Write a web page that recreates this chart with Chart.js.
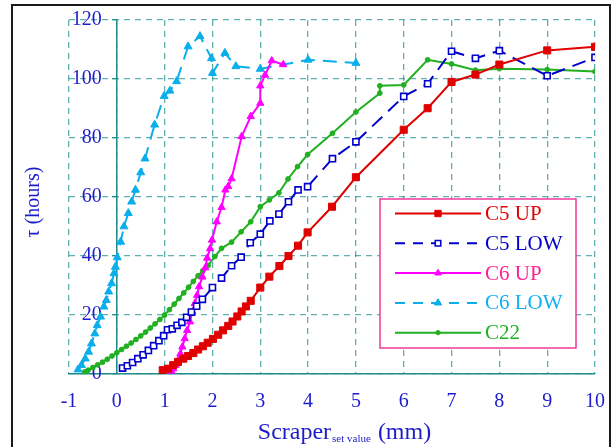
<!DOCTYPE html>
<html>
<head>
<meta charset="utf-8">
<script src="https://cdn.jsdelivr.net/npm/chart.js@4.4.1/dist/chart.umd.min.js"></script>
<style>
  html, body { margin: 0; padding: 0; background: #fff; }
  #wrap { position: relative; width: 612px; height: 447px; }
</style>
</head>
<body>
<div id="wrap"><canvas id="c" width="612" height="447"></canvas></div>
<script>
/* ---------- data ---------- */
const c5Up = [
  [0.96,1.3],[1.07,1.8],[1.18,3],[1.28,4.1],[1.39,5.2],[1.49,6.1],[1.6,7.1],[1.7,8.3],[1.8,9.4],[1.9,10.6],
  [2.01,11.9],[2.12,13.3],[2.22,14.8],[2.33,16.3],[2.42,17.8],[2.52,19.5],[2.61,21.2],[2.7,22.9],[2.8,24.8],
  [3.0,29.3],[3.19,33],[3.4,36.6],[3.59,40],[3.79,43.5],[3.99,48],[4.5,56.7],[5.0,66.7],[6.0,82.8],[6.5,90.1],
  [7.0,99],[7.5,101.5],[8.0,104.9],[9.0,109.7],[10.0,110.9]
];
const c5Low = [
  [0.12,2.0],[0.22,2.8],[0.33,3.9],[0.44,5.2],[0.55,6.5],[0.66,8.0],[0.77,9.6],[0.88,11.3],[0.98,13.0],[1.06,15.0],
  [1.16,15.3],[1.26,16.5],[1.36,17.5],[1.46,19.2],[1.56,21.0],[1.67,23.0],[1.79,25.3],[2.0,29.3],[2.19,32.5],
  [2.4,36.7],[2.6,39.6],[2.79,44.5],[3.0,47.4],[3.2,51.9],[3.39,54.2],[3.59,58.4],[3.79,62.4],[3.99,63.5],
  [4.51,73],[5.0,78.7],[6.0,94.1],[6.5,98.4],[7.0,109.4],[7.5,107],[8.0,109.6],[9.0,101.1],[10.0,107.3]
];
const c6Up = [
  [1.14,1.0],[1.18,1.8],[1.23,3],[1.28,4.6],[1.33,6.9],[1.37,9.2],[1.42,12],[1.47,14.8],[1.53,17.7],[1.58,21.1],
  [1.63,23.9],[1.68,26.7],[1.72,29.6],[1.79,32.9],[1.85,36],[1.89,39.3],[1.95,42.5],[1.99,45.4],[2.09,51.6],
  [2.19,56.5],[2.27,62.4],[2.33,63.6],[2.4,66.2],[2.61,80.5],[2.8,87.3],[3.0,91.8],[3.0,97.7],[3.1,101.3],
  [3.24,106.2],[3.48,104.9]
];
const c6Low = [
  [-0.81,1.5],[-0.74,3],[-0.66,5.2],[-0.59,7.5],[-0.53,10.3],[-0.46,13.7],[-0.41,16.5],[-0.34,19.4],[-0.27,22.8],
  [-0.22,25],[-0.17,27.9],[-0.11,30.7],[-0.06,34.1],[-0.03,36.3],[0.01,39.5],[0.08,44.8],[0.15,50],[0.24,54.5],
  [0.31,58.4],[0.39,62.4],[0.5,68.3],[0.59,73],[0.79,84.5],[0.99,94.2],[1.11,96],[1.25,99.2],[1.49,111],
  [1.74,114.5],[1.98,107],[2.0,102],[2.26,108.8],[2.49,104.3],[3.0,103.4],[4.0,106.5],[5.0,105.4]
];
const c22 = [
  [-0.67,0.7],[-0.6,1.3],[-0.5,2.2],[-0.4,3.1],[-0.3,4.0],[-0.2,5.0],[-0.1,6.1],[0,7.2],[0.1,8.3],[0.2,9.4],
  [0.3,10.5],[0.4,11.7],[0.5,12.9],[0.6,14.2],[0.7,15.6],[0.8,17.0],[0.9,18.5],[1.0,20.0],[1.1,21.8],[1.2,23.7],
  [1.3,25.6],[1.4,27.5],[1.5,29.4],[1.6,31.4],[1.7,33.3],[1.8,35.0],[1.91,36.8],[2.05,39.8],[2.19,42.6],
  [2.4,44.7],[2.6,48.2],[2.8,51.6],[3.0,56.7],[3.19,59],[3.39,61.4],[3.58,66.1],[3.78,70.3],[3.99,74.4],
  [4.51,81.6],[5.0,88.8],[5.5,95.2],[5.5,97.7],[6.0,98],[6.5,106.5],[7.0,105.1],[7.5,103],[8.0,103.5],
  [9.0,103.2],[10.0,102.5]
];
const seriesNames = ['C5 UP', 'C5 LOW', 'C6 UP', 'C6 LOW', 'C22'];
const xRange = [-1, 10], xStep = 1;
const yRange = [0, 120], yStep = 20;

/* ---------- look ---------- */
const SERIF = '"Liberation Serif", "Times New Roman", "DejaVu Serif", serif';
const BLUE_TXT = '#1c1ccc';
const GRID = 'rgba(0,128,128,0.62)';
const AXIS = '#1f8c8c';
const legendTextColors = ['#e00000', '#0000cc', '#ff2090', '#10b0f0', '#20b020'];

const toPts = arr => arr.map(p => ({ x: p[0], y: p[1] }));

const mk = (label, data, color, opts) => Object.assign({
  label, data: toPts(data), showLine: true,
  borderColor: color, borderWidth: 2, pointBorderColor: color,
  pointBackgroundColor: color, pointBorderWidth: 1, tension: 0
}, opts);

const datasets = [
  mk(seriesNames[0], c5Up, '#e00000', { pointStyle: 'rect', pointRadius: 5 }),
  mk(seriesNames[1], c5Low, '#0000cc', { pointStyle: 'rect', pointRadius: 4.3, pointBackgroundColor: '#fff', pointBorderWidth: 1.6, borderDash: [14, 8] }),
  mk(seriesNames[2], c6Up, '#ff00ff', { pointStyle: 'triangle', pointRadius: 4.2 }),
  mk(seriesNames[3], c6Low, '#0aaeea', { pointStyle: 'triangle', pointRadius: 4.6, borderDash: [14, 8] }),
  mk(seriesNames[4], c22, '#20b020', { pointStyle: 'circle', pointRadius: 2.4 })
];

/* ---------- small drawing helpers ---------- */
function marker(ctx, style, r, x, y) {
  ctx.beginPath();
  if (style === 'rect') {
    const s = Math.SQRT1_2 * r;
    ctx.rect(x - s, y - s, 2 * s, 2 * s);
  } else if (style === 'triangle') {
    for (let k = 0; k < 3; k++) {
      const a = k * 2 * Math.PI / 3;
      const px = x + Math.sin(a) * r, py = y - Math.cos(a) * r;
      k ? ctx.lineTo(px, py) : ctx.moveTo(px, py);
    }
    ctx.closePath();
  } else {
    ctx.arc(x, y, r, 0, Math.PI * 2);
  }
  ctx.fill();
  ctx.stroke();
}

const framePlugin = {
  id: 'frame',
  beforeDraw(chart) {
    const ctx = chart.ctx;
    ctx.save();
    ctx.fillStyle = '#fff';
    ctx.fillRect(0, 0, chart.width, chart.height);
    ctx.strokeStyle = '#1a1a1a';
    ctx.lineWidth = 2;
    ctx.strokeRect(12, 5, 598, 470);
    ctx.restore();
  }
};

const boxLegend = {
  id: 'boxLegend',
  afterDatasetsDraw(chart) {
    const ctx = chart.ctx;
    const L = 380, T = 199, W = 196, H = 149;
    ctx.save();
    ctx.fillStyle = '#fff';
    ctx.fillRect(L, T, W, H);
    ctx.strokeStyle = '#f0389a';
    ctx.lineWidth = 1.5;
    ctx.strokeRect(L, T, W, H);
    chart.data.datasets.forEach((ds, i) => {
      const y = 213.5 + i * 29.8;
      ctx.strokeStyle = ds.borderColor;
      ctx.lineWidth = 2;
      ctx.setLineDash(ds.borderDash ? [10, 8] : []);
      ctx.beginPath(); ctx.moveTo(395, y); ctx.lineTo(481, y); ctx.stroke();
      ctx.setLineDash([]);
      ctx.fillStyle = ds.pointBackgroundColor;
      ctx.strokeStyle = ds.pointBorderColor;
      ctx.lineWidth = ds.pointBorderWidth;
      marker(ctx, ds.pointStyle, ds.pointRadius * 0.9, 438, y);
      ctx.fillStyle = legendTextColors[i];
      ctx.font = '21px ' + SERIF;
      ctx.textBaseline = 'middle';
      ctx.fillText(ds.label, 485, y + 1);
    });
    ctx.restore();
  }
};

const axisTitles = {
  id: 'axisTitles',
  afterDraw(chart) {
    const ctx = chart.ctx;
    ctx.save();
    ctx.fillStyle = BLUE_TXT;
    // y title
    ctx.font = '20px ' + SERIF;
    ctx.textAlign = 'center';
    ctx.textBaseline = 'middle';
    ctx.translate(34, 202);
    ctx.rotate(-Math.PI / 2);
    ctx.fillText('\u03C4 (hours)', 0, 0);
    ctx.setTransform(1, 0, 0, 1, 0, 0);
    // x title with subscript
    ctx.textAlign = 'left';
    ctx.textBaseline = 'alphabetic';
    const big = '24px ' + SERIF, small = '11px ' + SERIF;
    ctx.font = big; const w1 = ctx.measureText('Scraper').width, w3 = ctx.measureText(' (mm)').width;
    ctx.font = small; const w2 = ctx.measureText('set value').width + 1;
    let x = 344 - (w1 + w2 + w3) / 2;
    const y = 439;
    ctx.font = big; ctx.fillText('Scraper', x, y); x += w1 + 1;
    ctx.font = small; ctx.fillText('set value', x, y + 3); x += w2;
    ctx.font = big; ctx.fillText(' (mm)', x, y);
    ctx.restore();
  }
};

Chart.defaults.font.family = SERIF;

new Chart(document.getElementById('c'), {
  type: 'scatter',
  data: { datasets },
  options: {
    responsive: false,
    animation: false,
    layout: { padding: { left: 69, right: 17, top: 20, bottom: 31 } },
    plugins: { legend: { display: false }, tooltip: { enabled: false } },
    scales: {
      x: {
        type: 'linear', min: xRange[0], max: xRange[1],
        // long invisible tick keeps labels low without widening the side padding
        ticks: { stepSize: xStep, color: BLUE_TXT, font: { size: 20 }, padding: 2 },
        grid: { color: GRID, lineWidth: 1.3, tickLength: 14, tickColor: 'transparent' },
        border: { color: AXIS, width: 1.5, dash: [6, 5] }
      },
      y: {
        type: 'linear', position: { x: 0 }, min: yRange[0], max: yRange[1],
        // axis sits inside the plot, so pad labels off it with trailing spaces
        ticks: { stepSize: yStep, color: BLUE_TXT, font: { size: 20 }, callback: v => v + '   ' },
        grid: { color: GRID, lineWidth: 1.3, tickLength: 4, tickColor: AXIS },
        border: { color: AXIS, width: 1.5, dash: [6, 5] }
      }
    }
  },
  plugins: [framePlugin, boxLegend, axisTitles]
});
</script>
</body>
</html>
